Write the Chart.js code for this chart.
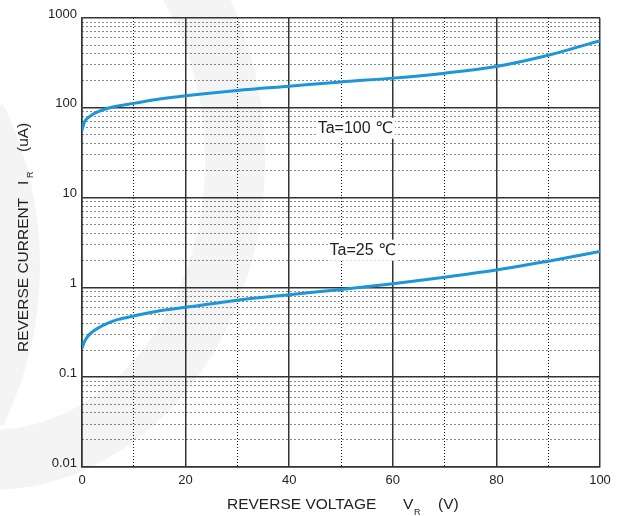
<!DOCTYPE html>
<html>
<head>
<meta charset="utf-8">
<script src="https://cdn.jsdelivr.net/npm/chart.js@4.4.1/dist/chart.umd.min.js"></script>
<style>
  html, body { margin: 0; padding: 0; background: #fff; }
  #wrap { width: 617px; height: 516px; position: relative; }
</style>
</head>
<body>
<div id="wrap"><canvas id="grafikIR"></canvas></div>
<script>
// data (VR dalam V, IR dalam uA)
const voltage    = [0, 0.5, 1, 2, 3, 5, 7, 10, 15, 20, 30, 40, 50, 60, 70, 80, 90, 100];
const current100 = [56, 70, 76, 84, 90, 99, 105, 112, 125, 136, 156, 174, 194, 214, 243, 288, 384, 560];
const current25  = [0.21, 0.25, 0.28, 0.32, 0.35, 0.40, 0.44, 0.48, 0.55, 0.60, 0.72, 0.83, 0.95, 1.10, 1.30, 1.56, 1.96, 2.51];
const xTickLabels = ["0", "20", "40", "60", "80", "100"];
const yTickLabels = ["0.01", "0.1", "1", "10", "100", "1000"];
const curveLabels = ["Ta=100 \u2103", "Ta=25 \u2103"];

const FONT = '"Liberation Sans", Arial, "DejaVu Sans", sans-serif';
const decades = yTickLabels.map(Number);
const xMajor = xTickLabels.map(Number);

// garis grid minor: 2..9 tiap dekade, dan tiap 10 V
const yGrid = [];
decades.forEach((d, i) => {
    yGrid.push(d);
    if (i < decades.length - 1) {
        for (let m = 2; m <= 9; m++) yGrid.push(+(d * m).toPrecision(3));
    }
});
const xGrid = [];
for (let v = xMajor[0]; v <= xMajor[xMajor.length - 1]; v += 10) xGrid.push(v);

const isDecade = (v) => decades.some((d) => Math.abs(d - v) / d < 1e-6);
const isXMajor = (v) => xMajor.includes(v);

// watermark tipis + judul sumbu + label kurva
const decorPlugin = {
    id: "decor",
    beforeDraw(chart) {
        const ctx = chart.ctx;
        ctx.save();
        ctx.fillStyle = "#fff";
        ctx.fillRect(0, 0, chart.width, chart.height);
        ctx.strokeStyle = "#f4f4f4";
        ctx.lineWidth = 60;
        ctx.beginPath();
        ctx.ellipse(-10, 160, 245, 300, 0, -Math.PI / 2, Math.PI / 2);
        ctx.stroke();
        ctx.lineWidth = 40;
        ctx.beginPath();
        ctx.arc(-330, 265, 350, -0.45, 0.45);
        ctx.stroke();
        ctx.restore();
    },
    afterDraw(chart) {
        const ctx = chart.ctx;
        const xs = chart.scales.x;
        const ys = chart.scales.y;
        ctx.save();
        ctx.fillStyle = "#222";
        ctx.textBaseline = "alphabetic";
        ctx.textAlign = "left";

        // judul sumbu x
        ctx.font = "15.5px " + FONT;
        ctx.fillText("REVERSE VOLTAGE", 227, 509);
        ctx.fillText("V", 403, 509);
        ctx.fillText("(V)", 438, 509);
        ctx.font = "9px " + FONT;
        ctx.fillText("R", 414, 515);

        // judul sumbu y
        ctx.save();
        ctx.translate(28, 352);
        ctx.rotate(-Math.PI / 2);
        ctx.font = "15.5px " + FONT;
        ctx.fillText("REVERSE CURRENT", 0, 0);
        ctx.fillText("I", 167, 0);
        ctx.fillText("(uA)", 200, 0);
        ctx.font = "9px " + FONT;
        ctx.fillText("R", 174, 5);
        ctx.restore();

        // label kurva dengan kotak putih
        const anchors = [[45.5, 60], [47.8, 2.63]];
        ctx.font = "16px " + FONT;
        ctx.textBaseline = "middle";
        curveLabels.forEach((txt, i) => {
            const px = xs.getPixelForValue(anchors[i][0]);
            const py = ys.getPixelForValue(anchors[i][1]);
            const w = ctx.measureText(txt).width;
            ctx.fillStyle = "#fff";
            ctx.fillRect(px - 2, py - 10, w + 4, 21);
            ctx.fillStyle = "#222";
            ctx.fillText(txt, px, py + 1);
        });
        ctx.restore();
    },
};

const ctx = document.getElementById("grafikIR").getContext("2d");

new Chart(ctx, {
    type: "line",
    data: {
        datasets: [
            {
                label: curveLabels[0],
                data: voltage.map((v, i) => ({ x: v, y: current100[i] })),
                borderColor: "#1c96d9",
                borderWidth: 3,
                pointRadius: 0,
                cubicInterpolationMode: "monotone",
                fill: false,
            },
            {
                label: curveLabels[1],
                data: voltage.map((v, i) => ({ x: v, y: current25[i] })),
                borderColor: "#1c96d9",
                borderWidth: 3,
                pointRadius: 0,
                cubicInterpolationMode: "monotone",
                fill: false,
            },
        ],
    },
    options: {
        responsive: true,
        maintainAspectRatio: false,
        animation: false,
        layout: { padding: { top: 18, right: 17, left: 0, bottom: 0 } },
        plugins: {
            legend: { display: false },
            tooltip: { enabled: false },
        },
        scales: {
            x: {
                type: "linear",
                min: 0,
                max: 100,
                afterBuildTicks: (s) => { s.ticks = xGrid.map((v) => ({ value: v })); },
                afterFit: (s) => { s.height = 49; },
                ticks: {
                    autoSkip: false,
                    maxRotation: 0,
                    padding: 6,
                    color: "#222",
                    font: { size: 13, family: FONT },
                    callback: (v) => (isXMajor(v) ? xTickLabels[xMajor.indexOf(v)] : ""),
                },
                grid: {
                    drawTicks: false,
                    color: (c) => (c.tick && isXMajor(c.tick.value) ? "#333" : "#111"),
                    lineWidth: (c) => (c.tick && isXMajor(c.tick.value) ? 1.5 : 1),
                },
                border: {
                    display: true,
                    color: "#333",
                    width: 1.5,
                    dash: (c) => (c.tick && !isXMajor(c.tick.value) ? [1, 2] : []),
                },
            },
            y: {
                type: "logarithmic",
                min: 0.01,
                max: 1000,
                afterBuildTicks: (s) => { s.ticks = yGrid.map((v) => ({ value: v })); },
                afterFit: (s) => { s.width = 82; },
                ticks: {
                    autoSkip: false,
                    padding: 5,
                    labelOffset: -4,
                    color: "#222",
                    font: { size: 13, family: FONT },
                    callback: (v) => {
                        const i = decades.findIndex((d) => Math.abs(d - v) / d < 1e-6);
                        return i >= 0 ? yTickLabels[i] : "";
                    },
                },
                grid: {
                    drawTicks: false,
                    color: (c) => (c.tick && isDecade(c.tick.value) ? "#333" : "#111"),
                    lineWidth: (c) => (c.tick && isDecade(c.tick.value) ? 1.5 : 1),
                },
                border: {
                    display: true,
                    color: "#333",
                    width: 1.5,
                    dash: (c) => (c.tick && !isDecade(c.tick.value) ? [1, 3] : []),
                },
            },
        },
    },
    plugins: [decorPlugin],
});
</script>
</body>
</html>
